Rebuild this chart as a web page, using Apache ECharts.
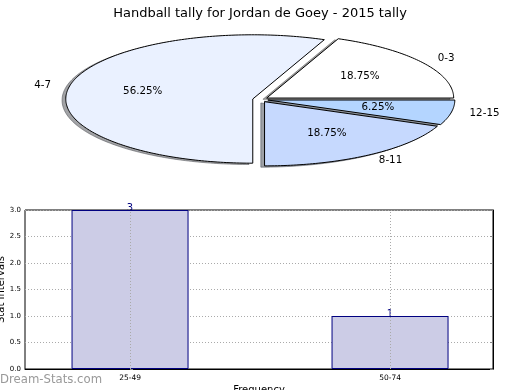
<!DOCTYPE html>
<html>
<head>
<meta charset="utf-8">
<script src="https://cdn.jsdelivr.net/npm/echarts@6/dist/echarts.min.js"></script>
<style>
html,body{margin:0;padding:0;background:#fff;}
#chart{width:520px;height:390px;}
</style>
</head>
<body>
<div id="chart"></div>
<script>
// ---- data ----
const titleText = 'Handball tally for Jordan de Goey - 2015 tally';
const sliceLabels = ['0-3', '4-7', '8-11', '12-15'];
const sliceValues = [3, 9, 3, 1];
const barCategories = ['25-49', '50-74'];
const barValues = [3, 1];

// ---- styles ----
const sliceColors = ['#ffffff', '#eaf1ff', '#c6d9fe', '#b4d5ff'];
const FONT = 'DejaVu Sans';
const CX = 260.3, CY = 99.5, RX = 187, RY = 64.2, EXPL = 0.041;
const SHX = -0.02 * RX, SHY = 0.02 * RY;

const total = sliceValues.reduce((a, b) => a + b, 0);
function sliceAngles(i) {
  let s = 0;
  for (let k = 0; k < i; k++) s += sliceValues[k];
  const a0 = s / total * Math.PI * 2;
  const a1 = (s + sliceValues[i]) / total * Math.PI * 2;
  return [a0, a1, (a0 + a1) / 2];
}
function wedgePoints(i, dx, dy) {
  const [a0, a1, am] = sliceAngles(i);
  const ox = CX + EXPL * RX * Math.cos(am) + dx;
  const oy = CY - EXPL * RY * Math.sin(am) + dy;
  const pts = [[ox, oy]];
  const n = Math.max(4, Math.ceil((a1 - a0) / (Math.PI / 180)));
  for (let j = 0; j <= n; j++) {
    const t = a0 + (a1 - a0) * j / n;
    pts.push([ox + RX * Math.cos(t), oy - RY * Math.sin(t)]);
  }
  return pts;
}
function darken(hex) {
  const r = parseInt(hex.substr(1, 2), 16), g = parseInt(hex.substr(3, 2), 16), b = parseInt(hex.substr(5, 2), 16);
  return 'rgba(' + Math.round(r * 0.3) + ',' + Math.round(g * 0.3) + ',' + Math.round(b * 0.3) + ',0.5)';
}

const chart = echarts.init(document.getElementById('chart'), null, {renderer: 'canvas'});
chart.setOption({
  animation: false,
  backgroundColor: '#fff',
  title: {
    text: titleText, left: 'center', top: 2,
    textStyle: {fontFamily: FONT, fontSize: 13, fontWeight: 'normal', color: '#000'}
  },
  grid: {left: 25, right: 27, top: 210, bottom: 21, show: true, borderColor: '#000', borderWidth: 1, backgroundColor: 'transparent'},
  xAxis: {
    type: 'value', min: -0.404, max: 1.396,
    axisLine: {show: true, lineStyle: {color: '#000'}},
    axisTick: {show: true, inside: true, length: 3, customValues: [0, 1], lineStyle: {color: '#888'}},
    axisLabel: {show: true, customValues: [0, 1], formatter: v => barCategories[Math.round(v)] || '',
      fontFamily: FONT, fontSize: 7.5, color: '#000', margin: 5},
    splitLine: {show: false}
  },
  yAxis: [{
    type: 'value', min: 0, max: 3, interval: 0.5,
    axisLine: {show: true, lineStyle: {color: '#000'}},
    axisTick: {show: true, inside: true, length: 3, lineStyle: {color: '#888'}},
    axisLabel: {formatter: v => v.toFixed(1), fontFamily: FONT, fontSize: 7, color: '#000', margin: 4},
    splitLine: {show: true, lineStyle: {color: '#aaa', type: [1, 2], width: 1}}
  }, {
    type: 'value', min: 0, max: 3, interval: 0.5, position: 'right',
    axisLine: {show: true, lineStyle: {color: '#000'}},
    axisTick: {show: true, inside: true, length: 3, lineStyle: {color: '#888'}},
    axisLabel: {show: false},
    splitLine: {show: false}
  }],
  graphic: [
    {type: 'text', x: 1, y: 289.5, rotation: Math.PI / 2,
      style: {text: 'Stat Intervals', font: '10px "DejaVu Sans"', fill: '#000', align: 'center', verticalAlign: 'middle'}},
    {type: 'text', x: 259, y: 390,
      style: {text: 'Frequency', font: '10px "DejaVu Sans"', fill: '#000', align: 'center', verticalAlign: 'middle'}},
    {type: 'text', x: 0, y: 380,
      style: {text: 'Dream-Stats.com', font: '11.7px "DejaVu Sans"', fill: '#999', align: 'left', verticalAlign: 'middle'}}
  ],
  series: [
    {
      type: 'custom', coordinateSystem: 'none', z: 1, silent: true,
      data: sliceValues.map(v => [v]),
      renderItem: function (params, api) {
        const i = params.dataIndex;
        const c = darken(sliceColors[i]);
        return {type: 'polygon', shape: {points: wedgePoints(i, SHX, SHY)},
          style: {fill: c, stroke: c, lineWidth: 1}};
      }
    },
    {
      type: 'custom', coordinateSystem: 'none', z: 2, silent: true,
      data: sliceValues.map(v => [v]),
      renderItem: function (params, api) {
        const i = params.dataIndex;
        const v = api.value(0);
        const [a0, a1, am] = sliceAngles(i);
        const c = Math.cos(am), s = Math.sin(am);
        const lx = CX + (EXPL + 1.1) * RX * c, ly = CY - (EXPL + 1.1) * RY * s;
        const px = CX + (EXPL + 0.6) * RX * c, py = CY - (EXPL + 0.6) * RY * s;
        return {type: 'group', children: [
          {type: 'polygon', shape: {points: wedgePoints(i, 0, 0)},
            style: {fill: sliceColors[i], stroke: '#000', lineWidth: 1}},
          {type: 'text', style: {text: sliceLabels[i], x: lx, y: ly, align: c > 0 ? 'left' : 'right',
            verticalAlign: 'middle', font: '10.3px "DejaVu Sans"', fill: '#000'}},
          {type: 'text', style: {text: (v / total * 100).toFixed(2) + '%', x: px, y: py, align: 'center',
            verticalAlign: 'middle', font: '10.3px "DejaVu Sans"', fill: '#000'}}
        ]};
      }
    },
    {
      type: 'bar', xAxisIndex: 0, yAxisIndex: 0, z: 3,
      data: barValues.map((v, i) => [i, v]),
      barWidth: 117,
      itemStyle: {color: '#ccccE6', borderColor: '#000080', borderWidth: 1},
      label: {show: true, position: 'top', distance: -3, color: '#000080', fontFamily: FONT, fontSize: 10,
        formatter: p => String(p.value[1])},
      markLine: {
        silent: true, symbol: 'none', label: {show: false},
        lineStyle: {color: '#aaa', type: [1, 2], width: 1},
        data: barValues.map((v, i) => ({xAxis: i}))
      }
    }
  ]
});
</script>
</body>
</html>
